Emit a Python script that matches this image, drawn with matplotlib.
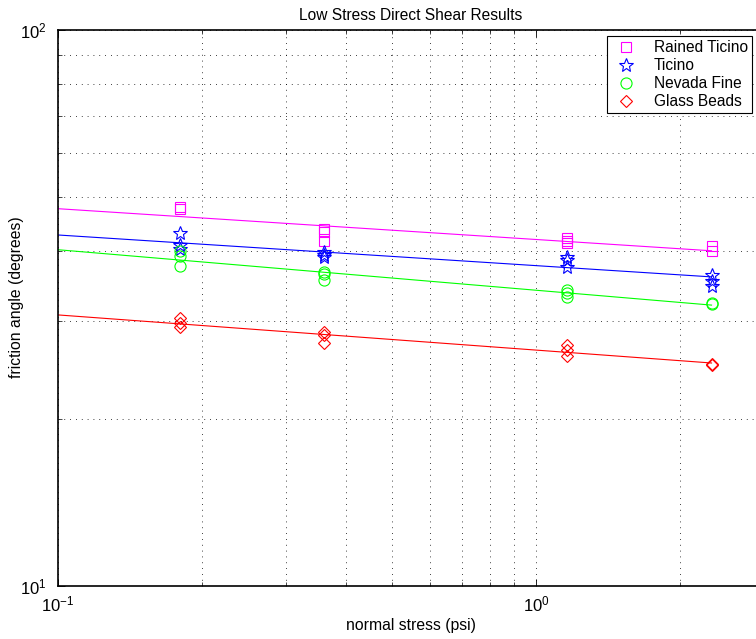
import numpy as np
import matplotlib
matplotlib.use("Agg")
import matplotlib.pyplot as plt
from matplotlib.ticker import LogLocator, NullFormatter

plt.rcParams["font.family"] = ["Liberation Sans", "DejaVu Sans"]
plt.rcParams["mathtext.fontset"] = "custom"
plt.rcParams["mathtext.rm"] = "Liberation Sans"
plt.rcParams["mathtext.it"] = "Liberation Sans"

# normal stress (psi) for each test, friction angle (degrees)
rained_x = [0.18, 0.18, 0.36, 0.36, 0.36, 1.16, 1.16, 1.16, 2.33, 2.33]
rained_y = [48.1, 47.6, 43.9, 43.3, 41.7, 42.3, 41.8, 41.4, 40.9, 40.0]

ticino_x = [0.18, 0.18, 0.18, 0.36, 0.36, 0.36, 1.16, 1.16, 1.16, 2.33, 2.33, 2.33]
ticino_y = [43.1, 41.0, 40.4, 39.8, 39.4, 39.0, 39.1, 38.6, 37.5, 36.2, 35.4, 34.6]

nevada_x = [0.18, 0.18, 0.18, 0.36, 0.36, 0.36, 1.16, 1.16, 1.16, 2.33, 2.33]
nevada_y = [40.0, 39.2, 37.7, 36.7, 36.4, 35.5, 34.1, 33.6, 33.1, 32.3, 32.2]

glass_x = [0.18, 0.18, 0.18, 0.36, 0.36, 0.36, 1.16, 1.16, 1.16, 2.33, 2.33]
glass_y = [30.3, 29.7, 29.2, 28.6, 28.3, 27.4, 27.1, 26.6, 25.9, 25.0, 25.1]

series = [
    ("Rained Ticino", rained_x, rained_y, "s", (1, 0, 1)),
    ("Ticino", ticino_x, ticino_y, "*", (0, 0, 1)),
    ("Nevada Fine", nevada_x, nevada_y, "o", (0, 1, 0)),
    ("Glass Beads", glass_x, glass_y, "D", (1, 0, 0)),
]
marker_size = {"s": 7, "*": 10, "o": 8, "D": 6.5}

fig = plt.figure(figsize=(7.56, 6.39), dpi=100)
# right spine sits just past the picture edge, as in the original crop
ax = fig.add_axes([58 / 756, 53 / 639, 706 / 756, 556 / 639])

for name, xs, ys, mk, col in series:
    xs = np.asarray(xs); ys = np.asarray(ys)
    ax.plot(xs, ys, linestyle="none", marker=mk, markersize=marker_size[mk],
            markerfacecolor="none", markeredgecolor=col, markeredgewidth=0.8,
            label=name)
    # power-law fit, drawn from the left axis to the last test
    b, a = np.polyfit(np.log10(xs), np.log10(ys), 1)
    fx = np.array([0.1, xs.max()])
    ax.plot(fx, 10 ** (a + b * np.log10(fx)), color=col, lw=0.8)

ax.set_xscale("log")
ax.set_yscale("log")
ax.set_xlim(0.1, 3)
ax.set_ylim(10, 100)

for axis in (ax.xaxis, ax.yaxis):
    axis.set_major_locator(LogLocator(base=10))
    axis.set_minor_locator(LogLocator(base=10, subs=np.arange(2, 10)))
    axis.set_minor_formatter(NullFormatter())

ax.grid(True, which="both", color="black", linestyle=(0, (1, 6)), lw=0.6)
ax.tick_params(which="both", direction="in", top=True, right=True, labelsize=12)
ax.tick_params(which="major", length=5, width=0.6)
ax.tick_params(which="minor", length=3, width=0.5)
ax.tick_params(axis="x", which="major", pad=6)
ax.tick_params(axis="y", which="major", pad=8)
for sp in ax.spines.values():
    sp.set_linewidth(1.2)

ax.set_title("Low Stress Direct Shear Results", fontsize=11.2, pad=7)
ax.set_xlabel("normal stress (psi)", fontsize=11.3)
ax.set_ylabel("friction angle (degrees)", fontsize=11.3)
ax.xaxis.set_label_coords(0.5, -0.057)
ax.yaxis.set_label_coords(-0.048, 0.52)

leg = ax.legend(loc="upper right", bbox_to_anchor=(0.983, 0.989), fontsize=11.2,
                fancybox=False, edgecolor="black", framealpha=1,
                borderaxespad=0, handletextpad=0.8, borderpad=0.25,
                labelspacing=0.2, handlelength=2.0)
leg.get_frame().set_linewidth(0.8)

fig.savefig("out.png", dpi=100)
